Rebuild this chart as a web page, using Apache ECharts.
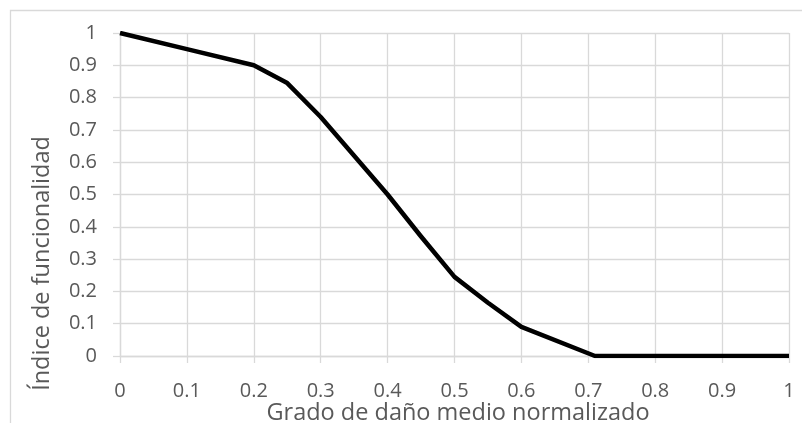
<!DOCTYPE html>
<html>
<head>
<meta charset="utf-8">
<script src="https://cdn.jsdelivr.net/npm/echarts@6/dist/echarts.min.js"></script>
<style>
  html, body { margin: 0; padding: 0; background: #fff; }
  #chart { width: 802px; height: 423px; }
</style>
</head>
<body>
<div id="chart"></div>
<script>
// Grado de daño medio normalizado (eje X)
const gradoDano = [0, 0.1, 0.2, 0.25, 0.3, 0.4, 0.45, 0.5, 0.55, 0.6, 0.71, 0.8, 0.9, 1];
// Índice de funcionalidad (eje Y)
const indiceFuncionalidad = [1, 0.95, 0.9, 0.845, 0.74, 0.5, 0.37, 0.245, 0.165, 0.09, 0, 0, 0, 0];

const xAxisTitle = 'Grado de daño medio normalizado';
const yAxisTitle = 'Índice de funcionalidad';

const FONT = '"Open Sans", "DejaVu Sans", sans-serif';
const GRID_COLOR = '#d9d9d9';
const TEXT_COLOR = '#595959';

const chart = echarts.init(document.getElementById('chart'), null, { renderer: 'canvas' });

const points = gradoDano.map((x, i) => [x, indiceFuncionalidad[i]]);

chart.setOption({
  animation: false,
  backgroundColor: '#ffffff',
  grid: {
    left: 120, right: 13, top: 33, bottom: 67,
    containLabel: false,
    outerBoundsMode: 'none'
  },
  graphic: [{
    type: 'rect',
    shape: { x: 10.5, y: 10.5, width: 900, height: 600 },
    style: { fill: 'none', stroke: GRID_COLOR, lineWidth: 1.3 },
    silent: true,
    z: -1
  }],
  xAxis: {
    type: 'value',
    min: 0, max: 1, interval: 0.1,
    name: xAxisTitle,
    nameLocation: 'middle',
    nameGap: 46,
    nameMoveOverlap: false,
    nameTextStyle: { color: TEXT_COLOR, fontFamily: FONT, fontSize: 23.5, lineHeight: 23, padding: [0, 0, 0, 7] },
    axisLine: { show: true, lineStyle: { color: GRID_COLOR, width: 1.3 } },
    axisTick: { show: true, inside: false, length: 7, lineStyle: { color: GRID_COLOR, width: 1.3 } },
    axisLabel: {
      color: TEXT_COLOR, fontFamily: FONT, fontSize: 20, margin: 25,
      formatter: v => String(Math.round(v * 10) / 10)
    },
    splitLine: { show: true, lineStyle: { color: GRID_COLOR, width: 1.3 } }
  },
  yAxis: {
    type: 'value',
    min: 0, max: 1, interval: 0.1,
    name: yAxisTitle,
    nameLocation: 'middle',
    nameRotate: 90,
    nameGap: 66,
    nameMoveOverlap: false,
    nameTextStyle: { color: TEXT_COLOR, fontFamily: FONT, fontSize: 23.5, lineHeight: 23, padding: [0, 138, 0, 0] },
    axisLine: { show: true, lineStyle: { color: GRID_COLOR, width: 1.3 } },
    axisTick: { show: true, inside: false, length: 7, lineStyle: { color: GRID_COLOR, width: 1.3 } },
    axisLabel: {
      color: TEXT_COLOR, fontFamily: FONT, fontSize: 20, margin: 23,
      formatter: v => String(Math.round(v * 10) / 10)
    },
    splitLine: { show: true, lineStyle: { color: GRID_COLOR, width: 1.3 } }
  },
  series: [{
    type: 'line',
    data: points,
    showSymbol: false,
    symbol: 'none',
    lineStyle: { color: '#000000', width: 4.5, join: 'round', cap: 'butt' },
    z: 5
  }]
});
</script>
</body>
</html>
